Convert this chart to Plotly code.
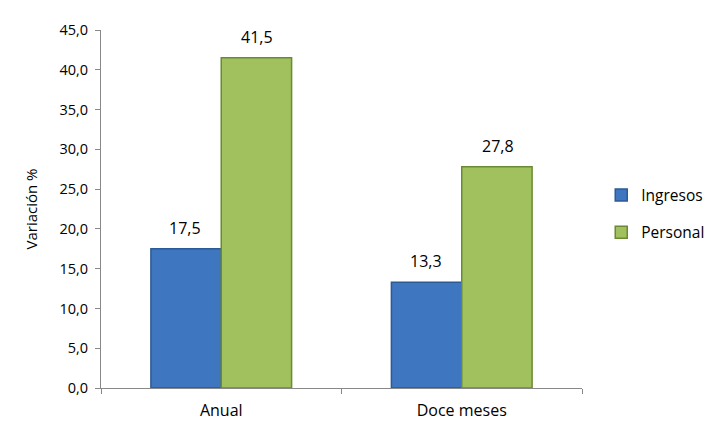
import plotly.graph_objects as go

categories = ["Anual", "Doce meses"]
ingresos = [17.5, 13.3]
personal = [41.5, 27.8]
y_ticks = [0, 5, 10, 15, 20, 25, 30, 35, 40, 45]

FONT = "Open Sans"

fig = go.Figure()
fig.add_trace(go.Bar(
    name="Ingresos", x=categories, y=ingresos, legendgroup="a",
    marker=dict(color="#3f76c0", line=dict(color="#2c5a96", width=1.5)),
))
fig.add_trace(go.Bar(
    name="Personal", x=categories, y=personal, legendgroup="b",
    marker=dict(color="#a0c15e", line=dict(color="#6b8a34", width=1.5)),
))

# data labels above the bars
for vals, shift in ((ingresos, -36), (personal, 36)):
    for c, v in zip(categories, vals):
        fig.add_annotation(
            x=c, y=v, text=f"{v:.1f}".replace(".", ","), showarrow=False,
            xshift=shift, yshift=8, yanchor="bottom",
            font=dict(size=16, color="#000", family=FONT),
        )

fig.update_layout(
    width=714, height=425,
    margin=dict(l=93, r=124, t=21, b=34),
    paper_bgcolor="white", plot_bgcolor="white",
    separators=",.",
    barmode="group", bargap=0.415, bargroupgap=0,
    font=dict(family=FONT, size=14, color="#000"),
    legend=dict(x=1.04, y=0.486, xanchor="left", yanchor="middle",
                font=dict(size=15.5, family=FONT), tracegroupgap=14,
                itemwidth=30),
    showlegend=True,
)
fig.update_xaxes(
    showline=True, linecolor="#888", linewidth=1,
    ticks="outside", ticklen=5, tickcolor="#888", tickson="boundaries",
    tickfont=dict(size=16, family=FONT), showgrid=False,
    ticklabelstandoff=8,
)
fig.update_yaxes(
    range=[0, 45], tickvals=y_ticks, tickformat=".1f",
    showline=True, linecolor="#888", linewidth=1,
    ticks="outside", ticklen=5, tickcolor="#888",
    tickfont=dict(size=14.5, family=FONT), showgrid=False,
    ticklabelstandoff=4,
    title=dict(text="Variación %", font=dict(size=15, family=FONT), standoff=18),
)

fig.write_html("out.html")
